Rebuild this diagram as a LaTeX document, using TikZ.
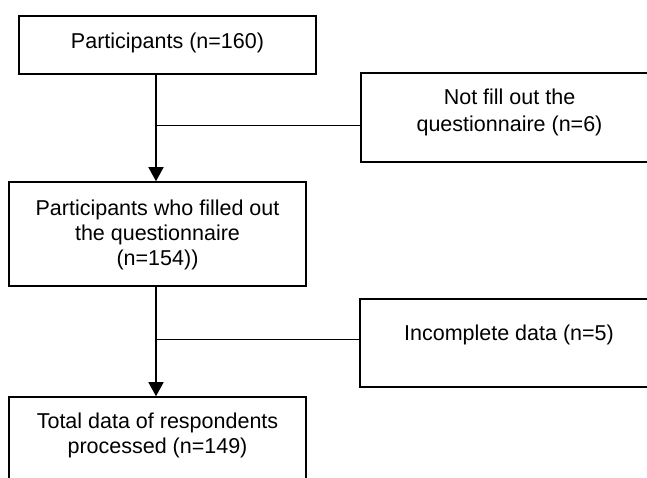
\documentclass[tikz,border=0pt]{standalone}
\usepackage{fontspec}
\setmainfont{Liberation Sans}
\usetikzlibrary{arrows.meta}
\begin{document}
\begin{tikzpicture}[x=1pt,y=-1pt,
  boxnode/.style={draw=black,line width=1.6pt,rectangle,inner sep=0pt},
  txt/.style={inner sep=0pt,align=center,font=\fontsize{21.5}{25}\selectfont},
  mainline/.style={line width=1.6pt,-{Triangle[length=14pt,width=15pt]}},
  branch/.style={line width=1pt}]
\useasboundingbox (0,0) rectangle (647,477);
\clip (0,0) rectangle (647,477);
% boxes
\node[boxnode,minimum width=297pt,minimum height=58pt] (b1) at (167.5,45) {};
\node[boxnode,minimum width=297pt,minimum height=89pt] (b2) at (509.5,117.5) {};
\node[boxnode,minimum width=297pt,minimum height=104pt] (b3) at (157.5,234) {};
\node[boxnode,minimum width=298pt,minimum height=88pt] (b4) at (509,343) {};
\node[boxnode,minimum width=297pt,minimum height=110pt] (b5) at (157.5,452) {};
% texts
\node[txt,anchor=base] (t1) at (167.5,48.5) {Participants (n=160)};
\node[txt,anchor=base] (t2a) at (509.5,104.5) {Not fill out the};
\node[txt,anchor=base] (t2b) at (509.5,131) {questionnaire (n=6)};
\node[txt,anchor=base] (t3a) at (157.5,215) {Participants who filled out};
\node[txt,anchor=base] (t3b) at (157.5,240) {the questionnaire};
\node[txt,anchor=base] (t3c) at (157.5,265) {(n=154))};
\node[txt,anchor=base] (t4) at (509,340) {Incomplete data (n=5)};
\node[txt,anchor=base] (t5a) at (157.5,428) {Total data of respondents};
\node[txt,anchor=base] (t5b) at (157.5,453) {processed (n=149)};
% connectors
\coordinate (j1) at (156,125);
\coordinate (j2) at (156,339);
\draw[mainline] (b1.south -| j1) -- (b3.north -| j1);
\draw[mainline] (b3.south -| j2) -- (b5.north -| j2);
\draw[branch] (j1) -- (j1 -| b2.west);
\draw[branch] (j2) -- (j2 -| b4.west);
\end{tikzpicture}
\end{document}
